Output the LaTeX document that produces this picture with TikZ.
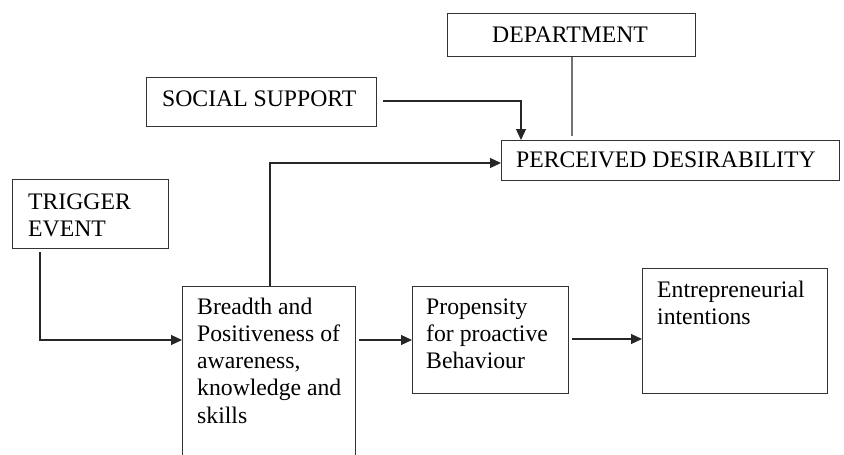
\documentclass[tikz,border=0pt]{standalone}
\usepackage{fontspec}
\setmainfont{Liberation Serif}
\usetikzlibrary{arrows.meta}
\newcommand{\lns}[1]{\begin{tabular}[t]{@{}l@{}}#1\end{tabular}}
\begin{document}
\begin{tikzpicture}[x=1pt,y=-1pt,
  box/.style={draw=black!80, line width=1.1pt, inner sep=0pt, anchor=north west},
  txt/.style={inner sep=0pt, anchor=base west, font=\fontsize{23.7}{27.3}\selectfont},
  conn/.style={draw=black!85, line width=1.1pt},
  arr/.style={conn, -{Triangle[length=11pt,width=10pt]}}]
\useasboundingbox (0,0) rectangle (844,455);
% boxes
\node[box, minimum width=248pt, minimum height=43pt] (dept) at (447,13) {};
\node[box, minimum width=230pt, minimum height=49pt] (social) at (146,77) {};
\node[box, minimum width=338pt, minimum height=40pt] (perc) at (501,140) {};
\node[box, minimum width=156pt, minimum height=69pt] (trig) at (12,179) {};
\node[box, minimum width=173pt, minimum height=180pt] (bread) at (182,286) {};
\node[box, minimum width=156pt, minimum height=107pt] (prop) at (412,286) {};
\node[box, minimum width=185pt, minimum height=125pt] (entr) at (642,268) {};
% texts
\node[txt] (tdept) at (492,42) {DEPARTMENT};
\node[txt] (tsocial) at (162,106) {SOCIAL SUPPORT};
\node[txt] (tperc) at (516,167) {PERCEIVED DESIRABILITY};
\node[txt] (ttrig) at (28,209) {\lns{TRIGGER\\EVENT}};
\node[txt] (tbread) at (197,314) {\lns{Breadth and\\Positiveness of\\awareness,\\knowledge and\\skills}};
\node[txt] (tprop) at (426,314) {\lns{Propensity\\for proactive\\Behaviour}};
\node[txt] (tentr) at (657,297) {\lns{Entrepreneurial\\intentions}};
% connectors
\coordinate (sstart) at (383,101);
\coordinate (dend) at (572,136);
\coordinate (bturn) at (270,163);
\draw[arr] (sstart) -| ([xshift=20pt]perc.north west);
\draw[conn, draw=black!55] (dept.south -| dend) -- (dend);
\draw[arr] (bread.north -| bturn) -- (bturn) -- (perc.west |- bturn);
\draw[arr] ([xshift=28pt]trig.south west) ++(0,3) |- (bread.west |- 0,340);
\draw[arr] ([xshift=3pt]bread.east |- 0,340) -- (prop.west |- 0,340);
\draw[arr] ([xshift=3pt]prop.east |- 0,339) -- (entr.west |- 0,339);
\end{tikzpicture}
\end{document}
